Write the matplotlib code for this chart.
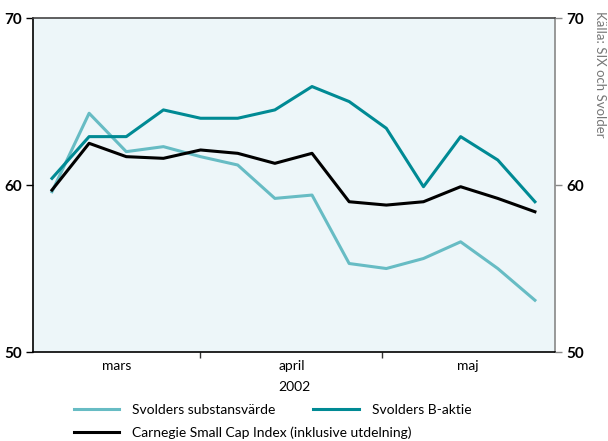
import matplotlib
matplotlib.use('Agg')
from matplotlib import pyplot as plt
from matplotlib.lines import Line2D

plt.rcParams['font.family'] = ['Lato', 'DejaVu Sans']

# weekly observations, Feb-May 2002
weeks = list(range(14))
substans = [59.6, 64.3, 62.0, 62.3, 61.7, 61.2, 59.2, 59.4, 55.3, 55.0, 55.6, 56.6, 55.0, 53.1]
b_aktie = [60.4, 62.9, 62.9, 64.5, 64.0, 64.0, 64.5, 65.9, 65.0, 63.4, 59.9, 62.9, 61.5, 59.0]
carnegie = [59.7, 62.5, 61.7, 61.6, 62.1, 61.9, 61.3, 61.9, 59.0, 58.8, 59.0, 59.9, 59.2, 58.4]

month_labels = ['mars', 'april', 'maj']
month_pos = [1.75, 6.45, 11.2]
month_breaks = [3.98, 8.88]
yticks = [50, 60, 70]

light = '#67bcc4'
dark = '#008a94'

fig = plt.figure(figsize=(6.08, 4.41), dpi=100)
ax = fig.add_axes([0.0543, 0.2018, 0.8585, 0.7572])
ax.set_facecolor('#edf6f9')

ax.plot(weeks, substans, color=light, lw=2.2)
ax.plot(weeks, b_aktie, color=dark, lw=2.2)
ax.plot(weeks, carnegie, color='black', lw=2.2)

ax.set_xlim(-0.51, 13.54)
ax.set_ylim(50, 70)
ax.set_yticks(yticks)
ax.tick_params(axis='y', labelsize=11, length=5, width=1, pad=3)
for lab in ax.get_yticklabels():
    lab.set_fontweight('bold')

ax.set_xticks(month_pos)
ax.set_xticklabels(month_labels)
ax.set_xticks(month_breaks, minor=True)
ax.tick_params(axis='x', which='major', length=0, labelsize=10, pad=6)
ax.tick_params(axis='x', which='minor', length=4, width=1, color='#333333')
ax.set_xlabel('2002', fontsize=10, labelpad=6)

ax.spines['left'].set_color('black')
ax.spines['bottom'].set_color('black')
ax.spines['top'].set_color('#444444')
ax.spines['right'].set_color('#888888')
for s in ax.spines.values():
    s.set_linewidth(1.2)

ax2 = ax.twinx()
ax2.set_ylim(50, 70)
ax2.set_yticks(yticks)
ax2.tick_params(axis='y', labelsize=11, length=5, width=1, color='#888888', pad=3)
for lab in ax2.get_yticklabels():
    lab.set_fontweight('bold')
for s in ax2.spines.values():
    s.set_visible(False)

fig.text(0.987, 0.975, 'Källa: SIX och Svolder', rotation=-90, ha='center', va='top',
         fontsize=9.5, color='#777777')

h1 = [Line2D([], [], color=light, lw=2.2), Line2D([], [], color=dark, lw=2.2)]
fig.legend(h1, ['Svolders substansvärde', 'Svolders B-aktie'], ncol=2,
           loc='center left', bbox_to_anchor=(0.121, 0.071), frameon=False,
           fontsize=10, handlelength=3.3, columnspacing=2.75, borderaxespad=0,
           borderpad=0, handletextpad=0.9)
h2 = [Line2D([], [], color='black', lw=2.2)]
fig.legend(h2, ['Carnegie Small Cap Index (inklusive utdelning)'],
           loc='center left', bbox_to_anchor=(0.121, 0.018), frameon=False,
           fontsize=10, handlelength=3.3, borderaxespad=0, borderpad=0,
           handletextpad=0.9)

fig.savefig('out.png', dpi=100)
